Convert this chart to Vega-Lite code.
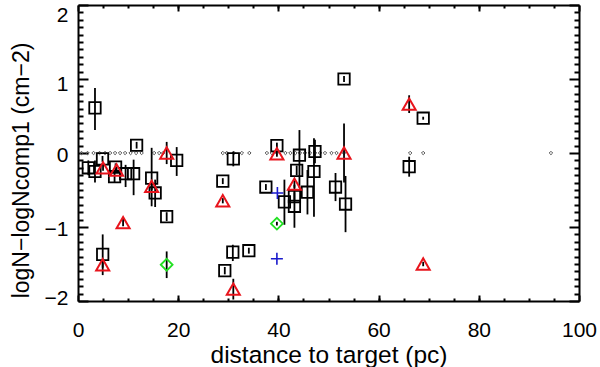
{
  "$schema": "https://vega.github.io/schema/vega-lite/v6.json",
  "width": 501,
  "height": 296,
  "autosize": "none",
  "padding": {"left": 78, "top": 5, "right": 21, "bottom": 66},
  "background": "white",
  "config": {
    "view": {"stroke": null},
    "axis": {
      "grid": false,
      "labelFont": "Liberation Sans",
      "titleFont": "Liberation Sans",
      "labelColor": "black",
      "titleColor": "black",
      "domainColor": "black",
      "tickColor": "black",
      "titleFontWeight": "normal",
      "domainWidth": 2,
      "tickWidth": 2
    }
  },
  "datasets": {
    "pts": [
      {"k": "sq", "x": 2.06, "y": -0.20, "lo": -0.30, "hi": -0.10},
      {"k": "sq", "x": 3.39, "y": -0.25, "lo": -0.40, "hi": -0.10},
      {"k": "sq", "x": 3.39, "y": 0.61, "lo": 0.31, "hi": 0.88},
      {"k": "sq", "x": 4.89, "y": -0.08, "lo": -0.12, "hi": -0.04},
      {"k": "sq", "x": 4.93, "y": -1.37, "lo": -1.65, "hi": -1.10},
      {"k": "sq", "x": 7.5, "y": -0.19, "lo": -0.24, "hi": -0.14},
      {"k": "sq", "x": 7.3, "y": -0.32, "lo": -0.40, "hi": -0.24},
      {"k": "sq", "x": 9.5, "y": -0.28, "lo": -0.46, "hi": -0.16},
      {"k": "sq", "x": 11.1, "y": -0.28, "lo": -0.57, "hi": -0.09},
      {"k": "sq", "x": 11.7, "y": 0.105, "lo": 0.06, "hi": 0.15},
      {"k": "sq", "x": 14.7, "y": -0.34, "lo": -0.72, "hi": 0.07},
      {"k": "sq", "x": 15.4, "y": -0.54, "lo": -0.73, "hi": -0.36},
      {"k": "sq", "x": 17.7, "y": -0.86, "lo": -0.92, "hi": -0.80},
      {"k": "sq", "x": 19.7, "y": -0.10, "lo": -0.31, "hi": 0.08},
      {"k": "sq", "x": 28.9, "y": -0.38, "lo": -0.42, "hi": -0.34},
      {"k": "sq", "x": 31.0, "y": -0.08, "lo": -0.18, "hi": 0.02},
      {"k": "sq", "x": 29.3, "y": -1.59, "lo": -1.64, "hi": -1.54},
      {"k": "sq", "x": 30.9, "y": -1.34, "lo": -1.46, "hi": -1.24},
      {"k": "sq", "x": 34.1, "y": -1.32, "lo": -1.36, "hi": -1.28},
      {"k": "sq", "x": 37.5, "y": -0.46, "lo": -0.50, "hi": -0.42},
      {"k": "sq", "x": 39.7, "y": 0.10, "lo": 0.06, "hi": 0.14},
      {"k": "sq", "x": 41.2, "y": -0.66, "lo": -0.97, "hi": -0.36},
      {"k": "sq", "x": 43.2, "y": -0.59, "lo": -0.65, "hi": -0.53},
      {"k": "sq", "x": 43.2, "y": -0.72, "lo": -1.01, "hi": -0.43},
      {"k": "sq", "x": 43.65, "y": -0.235, "lo": -0.30, "hi": -0.17},
      {"k": "sq", "x": 44.2, "y": -0.03, "lo": -0.47, "hi": 0.31},
      {"k": "sq", "x": 45.8, "y": -0.53, "lo": -0.83, "hi": -0.23},
      {"k": "sq", "x": 47.1, "y": -0.25, "lo": -0.86, "hi": 0.20},
      {"k": "sq", "x": 47.3, "y": 0.02, "lo": -0.14, "hi": 0.18},
      {"k": "sq", "x": 51.4, "y": -0.46, "lo": -0.65, "hi": -0.27},
      {"k": "sq", "x": 53.4, "y": -0.69, "lo": -1.07, "hi": -0.31},
      {"k": "sq", "x": 53.1, "y": 1.00, "lo": 0.96, "hi": 1.04},
      {"k": "sq", "x": 66.1, "y": -0.185, "lo": -0.32, "hi": -0.05},
      {"k": "sq", "x": 68.9, "y": 0.47, "lo": 0.45, "hi": 0.49},
      {"k": "tri", "x": 5.0, "y": -0.20, "lo": -0.24, "hi": -0.16},
      {"k": "tri", "x": 7.7, "y": -0.23, "lo": -0.27, "hi": -0.19},
      {"k": "tri", "x": 9.0, "y": -0.94, "lo": -0.99, "hi": -0.89},
      {"k": "tri", "x": 14.7, "y": -0.45, "lo": -0.50, "hi": -0.40},
      {"k": "tri", "x": 17.7, "y": 0.0, "lo": -0.15, "hi": 0.15},
      {"k": "tri", "x": 4.93, "y": -1.51, "lo": -1.55, "hi": -1.47},
      {"k": "tri", "x": 28.9, "y": -0.645, "lo": -0.68, "hi": -0.61},
      {"k": "tri", "x": 31.0, "y": -1.84, "lo": -1.98, "hi": -1.70},
      {"k": "tri", "x": 39.7, "y": -0.01, "lo": -0.05, "hi": 0.03},
      {"k": "tri", "x": 43.2, "y": -0.42, "lo": -0.47, "hi": -0.37},
      {"k": "tri", "x": 53.1, "y": 0.0, "lo": -0.40, "hi": 0.40},
      {"k": "tri", "x": 66.1, "y": 0.66, "lo": 0.54, "hi": 0.78},
      {"k": "tri", "x": 68.9, "y": -1.50, "lo": -1.53, "hi": -1.47},
      {"k": "dia", "x": 17.7, "y": -1.51, "lo": -1.69, "hi": -1.33},
      {"k": "dia", "x": 39.7, "y": -0.955, "lo": -0.98, "hi": -0.93},
      {"k": "plus", "x": 39.8, "y": -0.54},
      {"k": "plus", "x": 39.7, "y": -1.43}
    ],
    "dots": [
      {"x": 0.7, "y": 0}, {"x": 1.9, "y": 0}, {"x": 3.1, "y": 0}, {"x": 4.3, "y": 0},
      {"x": 5.4, "y": 0}, {"x": 6.4, "y": 0}, {"x": 7.4, "y": 0}, {"x": 8.4, "y": 0},
      {"x": 9.4, "y": 0}, {"x": 10.5, "y": 0}, {"x": 11.6, "y": 0}, {"x": 12.7, "y": 0},
      {"x": 15.2, "y": 0}, {"x": 16.2, "y": 0}, {"x": 17.0, "y": 0},
      {"x": 28.9, "y": 0}, {"x": 29.7, "y": 0}, {"x": 31.1, "y": 0}, {"x": 32.7, "y": 0},
      {"x": 34.2, "y": 0}, {"x": 37.7, "y": 0}, {"x": 38.7, "y": 0}, {"x": 39.7, "y": 0},
      {"x": 41.4, "y": 0}, {"x": 42.4, "y": 0}, {"x": 43.4, "y": 0}, {"x": 44.3, "y": 0},
      {"x": 45.3, "y": 0}, {"x": 46.3, "y": 0}, {"x": 47.3, "y": 0}, {"x": 48.3, "y": 0},
      {"x": 49.3, "y": 0}, {"x": 50.6, "y": 0}, {"x": 51.6, "y": 0}, {"x": 53.1, "y": 0},
      {"x": 66.3, "y": 0}, {"x": 68.9, "y": 0}, {"x": 94.4, "y": 0}
    ]
  },
  "layer": [
    {
      "data": {"name": "dots"},
      "mark": {"type": "point", "shape": "diamond", "filled": false, "size": 12, "stroke": "#555555", "strokeWidth": 1, "opacity": 1},
      "encoding": {
        "x": {"field": "x", "type": "quantitative", "scale": {"domain": [0, 100], "nice": false, "zero": false},
          "axis": {"orient": "bottom", "values": [5,10,15,20,25,30,35,40,45,50,55,60,65,70,75,80,85,90,95], "tickSize": -3, "labels": false, "domain": false, "title": null}},
        "y": {"field": "y", "type": "quantitative", "scale": {"domain": [-2, 2], "nice": false, "zero": false},
          "axis": {"orient": "left", "values": [-1.9,-1.8,-1.7,-1.6,-1.5,-1.4,-1.3,-1.2,-1.1,-0.9,-0.8,-0.7,-0.6,-0.5,-0.4,-0.3,-0.2,-0.1,0.1,0.2,0.3,0.4,0.5,0.6,0.7,0.8,0.9,1.1,1.2,1.3,1.4,1.5,1.6,1.7,1.8,1.9], "tickSize": -5, "labels": false, "domain": false, "title": null}}
      }
    },
    {
      "data": {"name": "pts"},
      "transform": [{"filter": "isValid(datum.lo)"}],
      "mark": {"type": "rule", "color": "black", "strokeWidth": 1.8},
      "encoding": {
        "x": {"field": "x", "type": "quantitative", "scale": {"domain": [0, 100], "nice": false, "zero": false},
          "axis": {"orient": "bottom", "values": [0, 20, 40, 60, 80, 100], "format": "d", "tickSize": -6, "labelFontSize": 21, "labelPadding": 24, "labelFlush": false,
            "title": "distance to target (pc)", "titleFontSize": 24.5, "titleY": 61, "titleBaseline": "alphabetic"}},
        "y": {"field": "lo", "type": "quantitative", "scale": {"domain": [-2, 2], "nice": false, "zero": false},
          "axis": {"orient": "left", "values": [-2, -1, 0, 1, 2], "format": "d", "tickSize": -10, "labelFontSize": 21, "labelPadding": 20, "labelFlush": false,
            "labelOffset": {"condition": [{"test": "datum.value == 2", "value": 10}, {"test": "datum.value == -2", "value": -3}, {"test": "datum.value == 1", "value": 5}], "value": 2},
            "title": "logN−logNcomp1 (cm−2)", "titleFontSize": 23, "titleAngle": 270, "titleX": -50, "titleY": 165, "titleBaseline": "alphabetic", "titleAlign": "center"}},
        "y2": {"field": "hi"}
      }
    },
    {
      "data": {"name": "pts"},
      "transform": [{"filter": "datum.k == 'sq'"}],
      "mark": {"type": "point", "shape": "square", "filled": false, "size": 130, "stroke": "black", "strokeWidth": 1.8, "opacity": 1},
      "encoding": {
        "x": {"field": "x", "type": "quantitative", "scale": {"domain": [0, 100], "nice": false, "zero": false},
          "axis": {"orient": "top", "values": [0, 20, 40, 60, 80, 100], "tickSize": -6, "labels": false, "domain": true, "title": null}},
        "y": {"field": "y", "type": "quantitative", "scale": {"domain": [-2, 2], "nice": false, "zero": false},
          "axis": {"orient": "right", "values": [-2, -1, 0, 1, 2], "tickSize": -10, "labels": false, "domain": true, "title": null}}
      }
    },
    {
      "data": {"name": "pts"},
      "transform": [{"filter": "datum.k == 'tri'"}],
      "mark": {"type": "point", "shape": "triangle-up", "filled": false, "size": 170, "stroke": "#e8141c", "strokeWidth": 2, "opacity": 1},
      "encoding": {
        "x": {"field": "x", "type": "quantitative", "scale": {"domain": [0, 100], "nice": false, "zero": false},
          "axis": {"orient": "top", "values": [5,10,15,20,25,30,35,40,45,50,55,60,65,70,75,80,85,90,95], "tickSize": -3, "labels": false, "domain": false, "title": null}},
        "y": {"field": "y", "type": "quantitative", "scale": {"domain": [-2, 2], "nice": false, "zero": false},
          "axis": {"orient": "right", "values": [-1.9,-1.8,-1.7,-1.6,-1.5,-1.4,-1.3,-1.2,-1.1,-0.9,-0.8,-0.7,-0.6,-0.5,-0.4,-0.3,-0.2,-0.1,0.1,0.2,0.3,0.4,0.5,0.6,0.7,0.8,0.9,1.1,1.2,1.3,1.4,1.5,1.6,1.7,1.8,1.9], "tickSize": -5, "labels": false, "domain": false, "title": null}}
      }
    },
    {
      "data": {"name": "pts"},
      "transform": [{"filter": "datum.k == 'dia'"}],
      "mark": {"type": "point", "shape": "diamond", "filled": false, "size": 140, "stroke": "#22e022", "strokeWidth": 1.8, "opacity": 1},
      "encoding": {
        "x": {"field": "x", "type": "quantitative", "scale": {"domain": [0, 100], "nice": false, "zero": false}, "axis": null},
        "y": {"field": "y", "type": "quantitative", "scale": {"domain": [-2, 2], "nice": false, "zero": false}, "axis": null}
      }
    },
    {
      "data": {"name": "pts"},
      "transform": [{"filter": "datum.k == 'plus'"}],
      "mark": {"type": "point", "shape": "M-1,0H1M0,-1V1", "filled": false, "size": 144, "stroke": "#1a1acc", "strokeWidth": 1.6, "opacity": 1},
      "encoding": {
        "x": {"field": "x", "type": "quantitative", "scale": {"domain": [0, 100], "nice": false, "zero": false}, "axis": null},
        "y": {"field": "y", "type": "quantitative", "scale": {"domain": [-2, 2], "nice": false, "zero": false}, "axis": null}
      }
    }
  ],
  "resolve": {"axis": {"x": "independent", "y": "independent"}}
}
